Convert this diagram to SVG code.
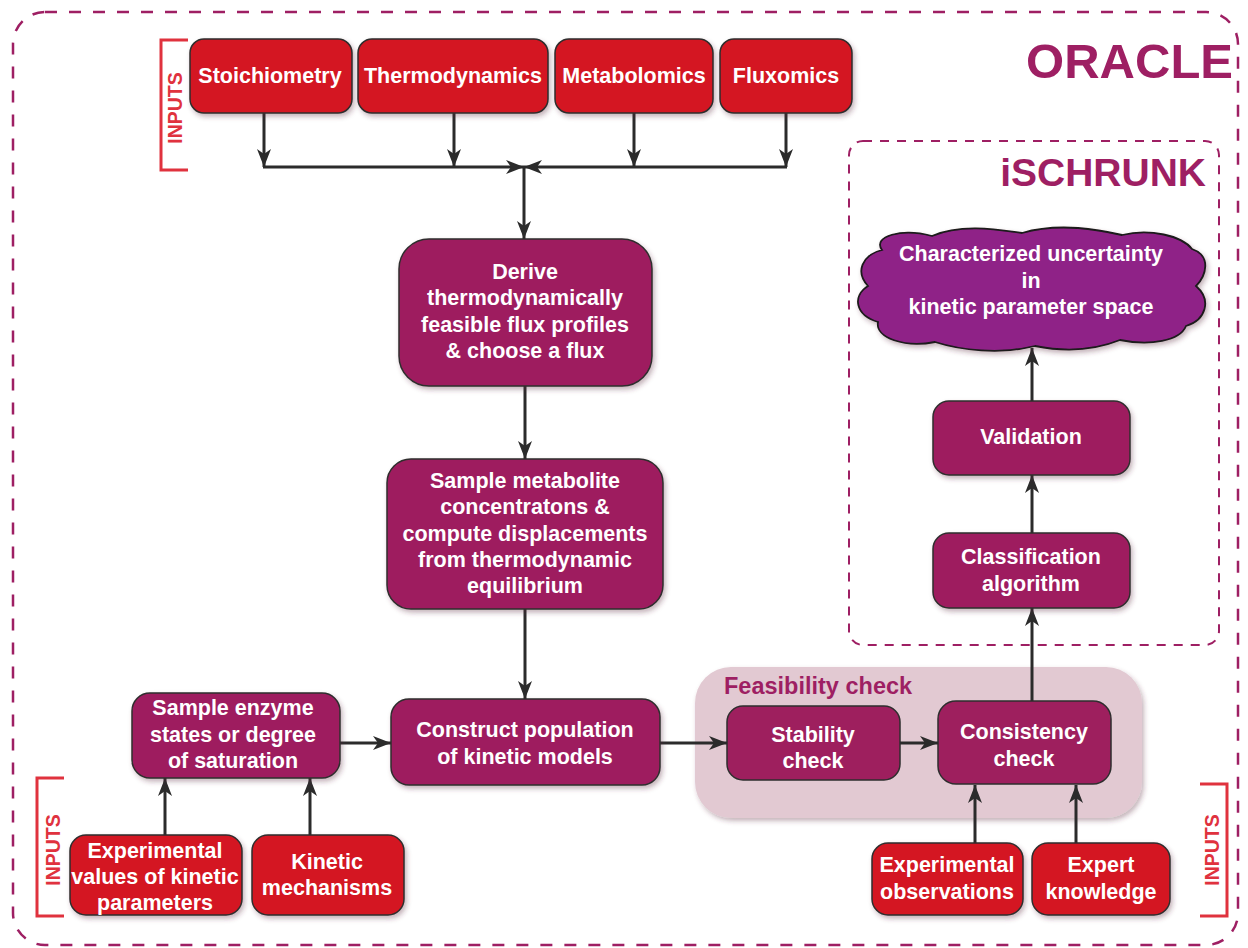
<svg xmlns="http://www.w3.org/2000/svg" width="1248" height="948" viewBox="0 0 1248 948">
<style>
text{font-family:"Liberation Sans",Arial,sans-serif;font-weight:bold;}
.red{fill:#d41720;stroke:#2e2e2e;stroke-width:1.5;}
.mag{fill:#9e1f5e;stroke:#2e2e2e;stroke-width:1.5;}
.wt{fill:#ffffff;font-size:21.5px;text-anchor:middle;}
.wt19{fill:#ffffff;font-size:21.5px;text-anchor:middle;}
.conn{stroke:#2b2b2b;stroke-width:3;fill:none;}
.brk{stroke:#e0323e;stroke-width:3;fill:none;}
.inp{fill:#e0323e;font-size:19.5px;text-anchor:middle;}
.title{fill:#9e1f63;}
</style>
<defs>
<marker id="ah" markerUnits="userSpaceOnUse" markerWidth="18" markerHeight="14" refX="18" refY="7" orient="auto">
<path d="M0,0 L18,7 L0,14 L5,7 Z" fill="#2b2b2b"/>
</marker>
<filter id="sh" x="-10%" y="-10%" width="125%" height="130%">
<feDropShadow dx="2" dy="3" stdDeviation="2.5" flood-color="#5a2a3a" flood-opacity="0.35"/>
</filter>
</defs>
<rect width="1248" height="948" fill="#ffffff"/>

<g id="oracle-frame">
<rect x="13" y="12" width="1225" height="933" rx="32" fill="none" stroke="#9e1f63" stroke-width="2.5" stroke-dasharray="12 12"/>
<text x="1233" y="78" class="title" font-size="49" text-anchor="end">ORACLE</text>
</g>

<g id="ischrunk-frame">
<rect x="849" y="141" width="370" height="504" rx="14" fill="none" stroke="#9e1f63" stroke-width="2" stroke-dasharray="9 8"/>
<text x="1206" y="186" class="title" font-size="39" text-anchor="end">iSCHRUNK</text>
</g>

<g id="feasibility-check">
<rect x="695" y="667" width="447" height="151" rx="36" fill="#e2c9d2" filter="url(#sh)"/>
<text x="724" y="694" class="title" font-size="23.5">Feasibility check</text>
</g>

<g id="inputs-top">
<path class="brk" d="M188,40 H161 V170 H188"/>
<text class="inp" transform="translate(182,108) rotate(-90)">INPUTS</text>
</g>
<g id="inputs-bottom-left">
<path class="brk" d="M64,778 H37 V916 H64"/>
<text class="inp" transform="translate(60,850) rotate(-90)">INPUTS</text>
</g>
<g id="inputs-bottom-right">
<path class="brk" d="M1200,784 H1227 V916 H1200"/>
<text class="inp" transform="translate(1219,850) rotate(-90)">INPUTS</text>
</g>

<g id="connectors">
<line class="conn" x1="264" y1="113" x2="264" y2="167" marker-end="url(#ah)"/>
<line class="conn" x1="454" y1="113" x2="454" y2="167" marker-end="url(#ah)"/>
<line class="conn" x1="634" y1="113" x2="634" y2="167" marker-end="url(#ah)"/>
<line class="conn" x1="786" y1="113" x2="786" y2="167" marker-end="url(#ah)"/>
<line class="conn" x1="263" y1="167" x2="524" y2="167" marker-end="url(#ah)"/>
<line class="conn" x1="787" y1="167" x2="524" y2="167" marker-end="url(#ah)"/>
<line class="conn" x1="524" y1="167" x2="524" y2="239" marker-end="url(#ah)"/>
<line class="conn" x1="525" y1="386" x2="525" y2="459" marker-end="url(#ah)"/>
<line class="conn" x1="525" y1="609" x2="525" y2="699" marker-end="url(#ah)"/>
<line class="conn" x1="340" y1="743" x2="391" y2="743" marker-end="url(#ah)"/>
<line class="conn" x1="165" y1="835" x2="165" y2="778" marker-end="url(#ah)"/>
<line class="conn" x1="310" y1="835" x2="310" y2="778" marker-end="url(#ah)"/>
<line class="conn" x1="660" y1="743" x2="727" y2="743" marker-end="url(#ah)"/>
<line class="conn" x1="900" y1="743" x2="938" y2="743" marker-end="url(#ah)"/>
<line class="conn" x1="975" y1="843" x2="975" y2="785" marker-end="url(#ah)"/>
<line class="conn" x1="1076" y1="843" x2="1076" y2="785" marker-end="url(#ah)"/>
<line class="conn" x1="1032" y1="701" x2="1032" y2="608" marker-end="url(#ah)"/>
<line class="conn" x1="1032" y1="533" x2="1032" y2="475" marker-end="url(#ah)"/>
<line class="conn" x1="1032" y1="401" x2="1032" y2="348" marker-end="url(#ah)"/>
</g>

<g id="stoichiometry"><rect class="red" x="190" y="39" width="162" height="74" rx="14" filter="url(#sh)"/><text class="wt19" x="270" y="83">Stoichiometry</text></g>
<g id="thermodynamics"><rect class="red" x="358" y="39" width="190" height="74" rx="14" filter="url(#sh)"/><text class="wt19" x="453" y="83">Thermodynamics</text></g>
<g id="metabolomics"><rect class="red" x="555" y="39" width="158" height="74" rx="14" filter="url(#sh)"/><text class="wt19" x="634" y="83">Metabolomics</text></g>
<g id="fluxomics"><rect class="red" x="720" y="39" width="132" height="74" rx="14" filter="url(#sh)"/><text class="wt19" x="786" y="83">Fluxomics</text></g>

<g id="derive"><rect class="mag" x="399" y="239" width="253" height="147" rx="30" filter="url(#sh)"/>
<text class="wt" x="525" y="279">Derive</text>
<text class="wt" x="525" y="305">thermodynamically</text>
<text class="wt" x="525" y="332">feasible flux profiles</text>
<text class="wt" x="525" y="358">&amp; choose a flux</text></g>

<g id="sample-metabolite"><rect class="mag" x="387" y="459" width="276" height="150" rx="24" filter="url(#sh)"/>
<text class="wt" x="525" y="488">Sample metabolite</text>
<text class="wt" x="525" y="514">concentratons &amp;</text>
<text class="wt" x="525" y="541">compute displacements</text>
<text class="wt" x="525" y="567">from thermodynamic</text>
<text class="wt" x="525" y="593">equilibrium</text></g>

<g id="construct"><rect class="mag" x="391" y="699" width="269" height="86" rx="18" filter="url(#sh)"/>
<text class="wt" x="525" y="737">Construct population</text>
<text class="wt" x="525" y="764">of kinetic models</text></g>

<g id="sample-enzyme"><rect class="mag" x="132" y="693" width="208" height="85" rx="18" filter="url(#sh)"/>
<text class="wt" x="233" y="715">Sample enzyme</text>
<text class="wt" x="233" y="742">states or degree</text>
<text class="wt" x="233" y="768">of saturation</text></g>

<g id="experimental-values"><rect class="red" x="70" y="835" width="172" height="80" rx="16" filter="url(#sh)"/>
<text class="wt" x="155" y="858">Experimental</text>
<text class="wt" x="155" y="884">values of kinetic</text>
<text class="wt" x="155" y="910">parameters</text></g>

<g id="kinetic-mechanisms"><rect class="red" x="252" y="835" width="152" height="80" rx="16" filter="url(#sh)"/>
<text class="wt" x="327" y="869">Kinetic</text>
<text class="wt" x="327" y="895">mechanisms</text></g>

<g id="stability-check"><rect class="mag" x="727" y="706" width="173" height="74" rx="16"/>
<text class="wt" x="813" y="742">Stability</text>
<text class="wt" x="813" y="768">check</text></g>

<g id="consistency-check"><rect class="mag" x="938" y="701" width="173" height="83" rx="18"/>
<text class="wt" x="1024" y="739">Consistency</text>
<text class="wt" x="1024" y="766">check</text></g>

<g id="experimental-observations"><rect class="red" x="872" y="843" width="151" height="72" rx="16" filter="url(#sh)"/>
<text class="wt" x="947" y="872">Experimental</text>
<text class="wt" x="947" y="899">observations</text></g>

<g id="expert-knowledge"><rect class="red" x="1032" y="843" width="138" height="72" rx="16" filter="url(#sh)"/>
<text class="wt" x="1101" y="872">Expert</text>
<text class="wt" x="1101" y="899">knowledge</text></g>

<g id="classification"><rect class="mag" x="933" y="533" width="197" height="75" rx="16" filter="url(#sh)"/>
<text class="wt" x="1031" y="564">Classification</text>
<text class="wt" x="1031" y="591">algorithm</text></g>

<g id="validation"><rect class="mag" x="933" y="401" width="197" height="74" rx="16" filter="url(#sh)"/>
<text class="wt" x="1031" y="444">Validation</text></g>

<g id="uncertainty-cloud">
<path d="M882,250 C872,236 902,228 932,236 C962,223 1000,230 1022,233 C1060,222 1100,230 1122,235 C1150,228 1182,236 1192,249 C1212,256 1206,276 1196,286 C1212,300 1206,320 1186,326 C1180,341 1150,346 1120,340 C1090,352 1060,351 1035,346 C1000,355 960,350 935,342 C905,348 875,338 878,322 C855,315 852,296 868,286 C855,272 862,255 882,250 Z" fill="#8f2487" stroke="#1a1a1a" stroke-width="1.8" filter="url(#sh)"/>
<text class="wt" x="1031" y="261">Characterized uncertainty</text>
<text class="wt" x="1031" y="288">in</text>
<text class="wt" x="1031" y="314">kinetic parameter space</text>
</g>
</svg>
